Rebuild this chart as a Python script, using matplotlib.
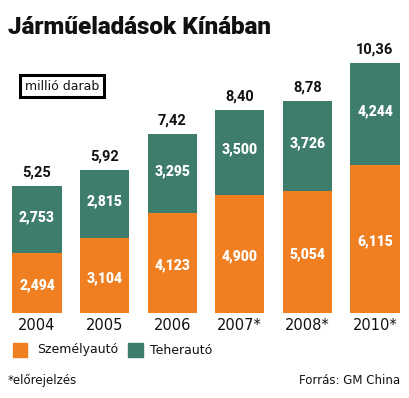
import matplotlib
matplotlib.use("Agg")
import matplotlib.pyplot as plt
from matplotlib.patches import Rectangle

years = ["2004", "2005", "2006", "2007*", "2008*", "2010*"]
szemelyauto = [2.494, 3.104, 4.123, 4.900, 5.054, 6.115]
teherauto = [2.753, 2.815, 3.295, 3.500, 3.726, 4.244]
totals = [5.25, 5.92, 7.42, 8.40, 8.78, 10.36]

ORANGE = "#F07F22"
GREEN = "#3E7D6C"

fig = plt.figure(figsize=(4.10, 3.98), dpi=100)
fig.patch.set_facecolor("white")
ax = fig.add_axes([12/410, (398-313)/398, 388/410, 266/398])
ax.set_xlim(-0.37, 5.37)
ax.set_ylim(0, 11)
ax.axis("off")

x = list(range(len(years)))
w = 0.73
ax.bar(x, szemelyauto, width=w, color=ORANGE)
ax.bar(x, teherauto, width=w, bottom=szemelyauto, color=GREEN)

def fmt(v, d):
    return f"{v:.{d}f}".replace(".", ",")

for i in x:
    ax.text(i, szemelyauto[i] / 2 - 0.1, fmt(szemelyauto[i], 3), color="white",
            ha="center", va="center", fontsize=10, fontweight="heavy", family="Roboto")
    ax.text(i, szemelyauto[i] + teherauto[i] / 2 + 0.1, fmt(teherauto[i], 3), color="white",
            ha="center", va="center", fontsize=10, fontweight="heavy", family="Roboto")
    ax.text(i, totals[i] + 0.25, fmt(totals[i], 2), color="#111111",
            ha="center", va="bottom", fontsize=10.5, fontweight="bold", family="Roboto")
    ax.text(i, -0.2, years[i], ha="center", va="top", fontsize=10.5, color="#111111",
            family="DejaVu Sans")

fig.text(8/410, 1 - 27/398, "Járműeladások Kínában", fontsize=17.5, fontweight="heavy",
         family="Roboto", va="center", ha="left", color="#111111")

# millió darab box
fig.text(62/410, 1 - 86/398, "millió darab", fontsize=9, ha="center", va="center", color="#111111",
         family="DejaVu Sans",
         bbox=dict(boxstyle="square,pad=0.35", fc="white", ec="black", lw=2.2))

# legend
fig.patches.append(Rectangle((13/410, 1 - 357/398), 14/410, 14/398, transform=fig.transFigure,
                             color=ORANGE))
fig.text(37/410, 1 - 350/398, "Személyautó", fontsize=9, va="center", ha="left", color="#111111",
         family="DejaVu Sans")
fig.patches.append(Rectangle((128/410, 1 - 357/398), 15/410, 14/398, transform=fig.transFigure,
                             color=GREEN))
fig.text(150/410, 1 - 350/398, "Teherautó", fontsize=9, va="center", ha="left", color="#111111",
         family="DejaVu Sans")

fig.text(8/410, 1 - 380/398, "*előrejelzés", fontsize=8.5, va="center", ha="left", color="#111111",
         family="DejaVu Sans")
fig.text(400/410, 1 - 380/398, "Forrás: GM China", fontsize=8.5, va="center", ha="right",
         color="#111111", family="DejaVu Sans")

fig.savefig("out.png", dpi=100, facecolor="white")
